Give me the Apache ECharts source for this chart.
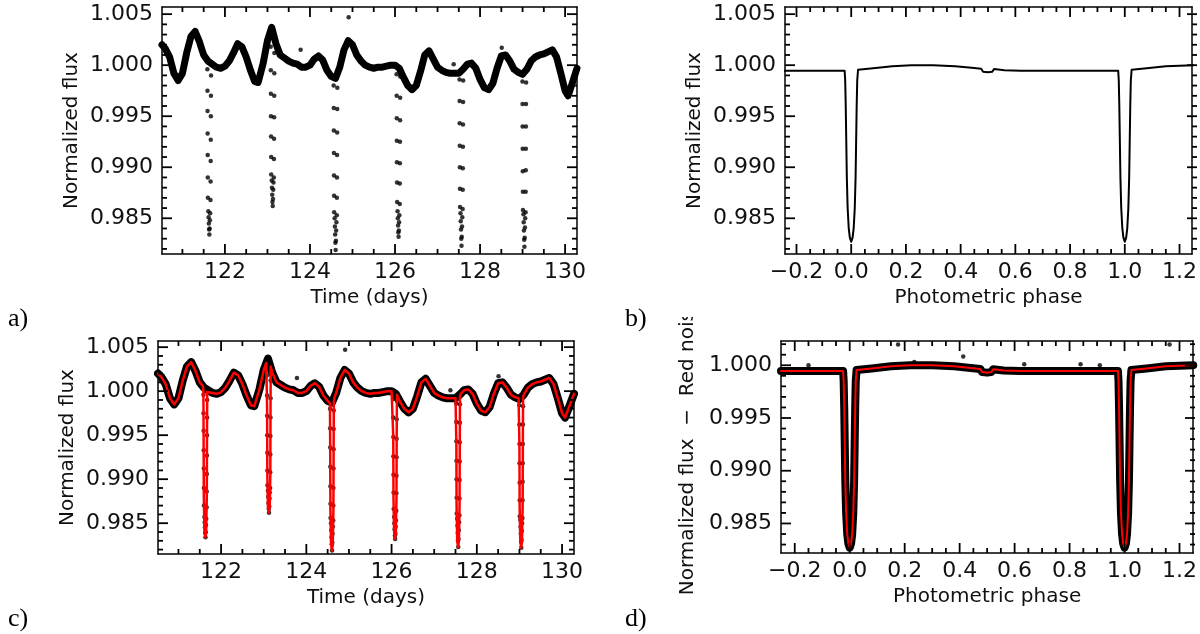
<!DOCTYPE html>
<html>
<head>
<meta charset="utf-8">
<script src="https://cdn.jsdelivr.net/npm/echarts@6/dist/echarts.min.js"></script>
<style>
html, body { margin: 0; padding: 0; background: #fff; }
#main { width: 1200px; height: 634px; }
</style>
</head>
<body>
<div id="main"></div>
<script>
// light curve out of eclipse: [time (days), normalized flux]
var lcBase = [
    [120.52, 1.0020], [120.60, 1.0016], [120.70, 1.0008], [120.80, 0.9992], [120.90, 0.9985],
    [121.00, 0.9992], [121.10, 1.0012], [121.20, 1.0028], [121.30, 1.0033], [121.40, 1.0023],
    [121.50, 1.0010], [121.60, 1.0004], [121.70, 1.0001], [121.80, 0.9998], [121.90, 0.9997],
    [122.00, 0.9999], [122.10, 1.0004], [122.20, 1.0012], [122.30, 1.0021], [122.40, 1.0018],
    [122.50, 1.0008], [122.60, 0.9995], [122.70, 0.9984], [122.78, 0.9983], [122.90, 1.0002],
    [123.00, 1.0024], [123.10, 1.0037], [123.20, 1.0021], [123.30, 1.0010], [123.40, 1.0007],
    [123.50, 1.0004], [123.60, 1.0002], [123.70, 1.0001], [123.80, 0.9998], [123.90, 0.9998],
    [124.00, 1.0000], [124.10, 1.0006], [124.20, 1.0009], [124.30, 1.0005], [124.40, 0.9995],
    [124.50, 0.9989], [124.60, 0.9987], [124.70, 0.9998], [124.80, 1.0015], [124.90, 1.0024],
    [125.00, 1.0020], [125.10, 1.0010], [125.20, 1.0004], [125.30, 1.0000], [125.40, 0.9998],
    [125.50, 0.9997], [125.60, 0.9998], [125.70, 0.9998], [125.80, 0.9999], [125.90, 1.0000],
    [126.00, 1.0000], [126.10, 0.9997], [126.20, 0.9988], [126.30, 0.9980], [126.40, 0.9976],
    [126.50, 0.9980], [126.60, 0.9994], [126.70, 1.0010], [126.80, 1.0014], [126.90, 1.0006],
    [127.00, 0.9998], [127.10, 0.9995], [127.20, 0.9993], [127.30, 0.9992], [127.40, 0.9992],
    [127.50, 0.9992], [127.60, 0.9996], [127.70, 1.0001], [127.80, 1.0002], [127.90, 0.9997],
    [128.00, 0.9986], [128.10, 0.9978], [128.20, 0.9976], [128.30, 0.9982], [128.40, 0.9997],
    [128.50, 1.0009], [128.60, 1.0010], [128.70, 1.0004], [128.80, 0.9996], [128.90, 0.9993],
    [129.00, 0.9991], [129.10, 0.9996], [129.20, 1.0004], [129.30, 1.0008], [129.40, 1.0010],
    [129.50, 1.0011], [129.60, 1.0013], [129.70, 1.0015], [129.80, 1.0008], [129.90, 0.9992],
    [130.00, 0.9975], [130.07, 0.9970], [130.15, 0.9980], [130.28, 0.9997]
];

// points inside the six eclipses
var eclDots = [
    [121.587, 0.9996], [121.589, 0.9975], [121.591, 0.9955], [121.593, 0.9933], [121.595, 0.9912], [121.597, 0.9890], [121.599, 0.9870],
    [121.661, 0.9868], [121.663, 0.9886], [121.665, 0.9906], [121.667, 0.9927], [121.669, 0.9950], [121.671, 0.9970], [121.673, 0.9990],
    [121.610, 0.9857], [121.616, 0.9851], [121.622, 0.9845], [121.628, 0.9839], [121.634, 0.9834], [121.640, 0.9840], [121.646, 0.9848], [121.652, 0.9855],
    [123.077, 1.0018], [123.079, 0.9995], [123.081, 0.9972], [123.083, 0.9950], [123.085, 0.9930], [123.087, 0.9910], [123.089, 0.9893],
    [123.151, 0.9890], [123.153, 0.9908], [123.155, 0.9928], [123.157, 0.9949], [123.159, 0.9970], [123.161, 0.9992], [123.163, 1.0012],
    [123.100, 0.9887], [123.106, 0.9880], [123.112, 0.9873], [123.118, 0.9866], [123.124, 0.9862], [123.130, 0.9869], [123.136, 0.9878], [123.142, 0.9885],
    [124.557, 0.9980], [124.559, 0.9958], [124.561, 0.9936], [124.563, 0.9914], [124.565, 0.9892], [124.567, 0.9872], [124.569, 0.9856],
    [124.631, 0.9853], [124.633, 0.9870], [124.635, 0.9890], [124.637, 0.9912], [124.639, 0.9934], [124.641, 0.9957], [124.643, 0.9978],
    [124.580, 0.9850], [124.586, 0.9842], [124.592, 0.9834], [124.598, 0.9826], [124.604, 0.9819], [124.610, 0.9828], [124.616, 0.9838], [124.622, 0.9846],
    [126.037, 0.9991], [126.039, 0.9970], [126.041, 0.9948], [126.043, 0.9926], [126.045, 0.9905], [126.047, 0.9885], [126.049, 0.9866],
    [126.111, 0.9864], [126.113, 0.9884], [126.115, 0.9904], [126.117, 0.9925], [126.119, 0.9946], [126.121, 0.9968], [126.123, 0.9989],
    [126.060, 0.9857], [126.066, 0.9850], [126.072, 0.9843], [126.078, 0.9836], [126.084, 0.9832], [126.090, 0.9838], [126.096, 0.9846], [126.102, 0.9853],
    [127.517, 0.9986], [127.519, 0.9965], [127.521, 0.9943], [127.523, 0.9921], [127.525, 0.9900], [127.527, 0.9879], [127.529, 0.9861],
    [127.591, 0.9859], [127.593, 0.9878], [127.595, 0.9899], [127.597, 0.9920], [127.599, 0.9942], [127.601, 0.9964], [127.603, 0.9985],
    [127.540, 0.9855], [127.546, 0.9847], [127.552, 0.9839], [127.558, 0.9830], [127.564, 0.9823], [127.570, 0.9832], [127.576, 0.9842], [127.582, 0.9851],
    [128.997, 0.9984], [128.999, 0.9962], [129.001, 0.9940], [129.003, 0.9918], [129.005, 0.9896], [129.007, 0.9876], [129.009, 0.9858],
    [129.071, 0.9856], [129.073, 0.9876], [129.075, 0.9897], [129.077, 0.9918], [129.079, 0.9940], [129.081, 0.9962], [129.083, 0.9983],
    [129.020, 0.9854], [129.026, 0.9846], [129.032, 0.9838], [129.038, 0.9829], [129.044, 0.9822], [129.050, 0.9831], [129.056, 0.9841], [129.062, 0.9850]
];

// isolated points above the band
var lcOutliers = [[124.91, 1.0047], [123.78, 1.0015], [127.38, 1.0001], [128.51, 1.0017]];

// eclipse mid-times and the model dips drawn in red (panel c)
var eclTimes = [121.63, 123.12, 124.60, 126.08, 127.56, 129.04];
var eclModel = [
    [121.57, 1.0006], [121.585, 1.0001], [121.59, 0.9950], [121.595, 0.9880], [121.61, 0.9842], [121.63, 0.9834], [121.65, 0.9842], [121.665, 0.9880], [121.67, 0.9950], [121.675, 0.9999], [121.69, 1.0001],
    [123.06, 1.0032], [123.075, 1.0033], [123.08, 0.9980], [123.085, 0.9905], [123.10, 0.9868], [123.12, 0.9862], [123.14, 0.9868], [123.155, 0.9905], [123.16, 0.9980], [123.165, 1.0028], [123.18, 1.0026],
    [124.54, 0.9988], [124.555, 0.9986], [124.56, 0.9935], [124.565, 0.9865], [124.58, 0.9826], [124.60, 0.9819], [124.62, 0.9826], [124.635, 0.9865], [124.64, 0.9935], [124.645, 0.9988], [124.66, 0.9993],
    [126.02, 1.0000], [126.035, 0.9999], [126.04, 0.9948], [126.045, 0.9878], [126.06, 0.9840], [126.08, 0.9832], [126.10, 0.9840], [126.115, 0.9878], [126.12, 0.9948], [126.125, 0.9996], [126.14, 0.9994],
    [127.50, 0.9992], [127.515, 0.9993], [127.52, 0.9940], [127.525, 0.9870], [127.54, 0.9830], [127.56, 0.9823], [127.58, 0.9830], [127.595, 0.9870], [127.60, 0.9940], [127.605, 0.9994], [127.62, 0.9997],
    [128.98, 0.9992], [128.995, 0.9991], [129.00, 0.9938], [129.005, 0.9868], [129.02, 0.9829], [129.04, 0.9822], [129.06, 0.9829], [129.075, 0.9868], [129.08, 0.9938], [129.085, 0.9993], [129.10, 0.9996]
];

// phase-folded model: [phase, normalized flux]
var phaseModel = [
    [-0.25, 0.99945], [-0.10, 0.99945], [-0.024, 0.99945], [-0.022, 0.9985], [-0.020, 0.9960], [-0.018, 0.9925],
    [-0.016, 0.9890], [-0.013, 0.9860], [-0.009, 0.9840], [-0.005, 0.9831], [0.000, 0.9827], [0.005, 0.9831],
    [0.009, 0.9840], [0.013, 0.9860], [0.016, 0.9890], [0.018, 0.9925], [0.020, 0.9960], [0.022, 0.9985],
    [0.025, 0.99955], [0.08, 0.9997], [0.15, 0.9999], [0.22, 1.0000], [0.30, 1.0000], [0.38, 0.9999],
    [0.44, 0.99975], [0.475, 0.99965], [0.482, 0.99935], [0.50, 0.9993], [0.515, 0.99935], [0.522, 0.99962],
    [0.56, 0.9995], [0.62, 0.99945], [0.80, 0.99945], [0.976, 0.99945], [0.978, 0.9985], [0.980, 0.9960],
    [0.982, 0.9925], [0.984, 0.9890], [0.987, 0.9860], [0.991, 0.9840], [0.995, 0.9831], [1.000, 0.9827],
    [1.005, 0.9831], [1.009, 0.9840], [1.013, 0.9860], [1.016, 0.9890], [1.018, 0.9925], [1.020, 0.9960],
    [1.022, 0.9985], [1.025, 0.99955], [1.08, 0.9997], [1.15, 0.9999], [1.25, 1.0000]
];
// isolated points in the folded residual curve (panel d)
var phaseDots = [
    [0.176, 1.00196], [0.413, 1.00084], [1.164, 1.00196], [-0.15, 1.0000], [0.235, 1.0003],
    [0.635, 1.0001], [0.84, 1.0001], [0.91, 1.0000]
];

// tick labels and tick marks
var timeTicks = [122, 124, 126, 128, 130];
var timeMinor = [121, 121.5, 122.5, 123, 123.5, 124.5, 125, 125.5, 126.5, 127, 127.5, 128.5, 129, 129.5];
var fluxTicks = [0.985, 0.990, 0.995, 1.000, 1.005];
var fluxTicksD = [0.985, 0.990, 0.995, 1.000];
var fluxMinor = [0.982, 0.983, 0.984, 0.986, 0.987, 0.988, 0.989, 0.991, 0.992, 0.993, 0.994,
    0.996, 0.997, 0.998, 0.999, 1.001, 1.002, 1.003, 1.004];
var phaseTicks = [-0.2, 0, 0.2, 0.4, 0.6, 0.8, 1.0, 1.2];
var phaseMinor = [-0.15, -0.1, -0.05, 0.05, 0.1, 0.15, 0.25, 0.3, 0.35, 0.45, 0.5, 0.55, 0.65, 0.7,
    0.75, 0.85, 0.9, 0.95, 1.05, 1.1, 1.15];

var fnt = 'DejaVu Sans';
var ink = '#111';

var boxes = [
    { left: 162, top: 7, width: 415, height: 247 },
    { left: 785, top: 7, width: 412, height: 247 },
    { left: 158, top: 341, width: 416, height: 213 },
    { left: 781, top: 341, width: 414, height: 212 }
];

// red model for panel c: baseline outside eclipses + the dips
var modelC = lcBase.filter(function (p) {
    for (var i = 0; i < eclTimes.length; i++) {
        if (Math.abs(p[0] - eclTimes[i]) < 0.07) return false;
    }
    return true;
}).concat(eclModel).sort(function (a, b) { return a[0] - b[0]; });

function inRange(list, min, max) {
    return list.filter(function (v) { return v > min && v < max; });
}

// per grid and dimension: frame on both sides, then one label axis
function axisSet(dim, gi, min, max, labels, fmt, name, nameGap) {
    var sides = dim === 'x' ? ['bottom', 'top'] : ['left', 'right'];
    var out = [];
    sides.forEach(function (side) {
        out.push({
            type: 'value', gridIndex: gi, position: side, min: min, max: max,
            axisLine: { show: true, onZero: false, lineStyle: { color: '#000', width: 1.5 } },
            axisTick: { show: false },
            axisLabel: { show: false },
            splitLine: { show: false }
        });
    });
    out.push({
        type: 'value', gridIndex: gi, position: sides[0], min: min, max: max,
        name: name, nameLocation: 'middle', nameGap: nameGap,
        nameTextStyle: { fontFamily: fnt, fontSize: 20, color: ink },
        axisLine: { show: false, onZero: false },
        axisTick: { show: false },
        axisLabel: { show: true, customValues: labels, formatter: fmt, margin: dim === 'x' ? 7 : 9,
            fontFamily: fnt, fontSize: 22, color: ink },
        splitLine: { show: false }
    });
    return out;
}

function fmtFlux(v) { return v.toFixed(3); }
function fmtTime(v) { return String(v); }
function fmtPhase(v) { return v.toFixed(1).replace('-', '\u2212'); }

var tMin = 120.52, tMax = 130.28;
var fMin = 0.9815, fMax = 1.0057;
var fMinD = 0.9822, fMaxD = 1.0023;
var pMinB = -0.242, pMaxB = 1.246;
var pMinD = -0.25, pMaxD = 1.25;

var xAxes = [].concat(
    axisSet('x', 0, tMin, tMax, timeTicks, fmtTime, 'Time (days)', 34),
    axisSet('x', 1, pMinB, pMaxB, phaseTicks, fmtPhase, 'Photometric phase', 34),
    axisSet('x', 2, tMin, tMax, timeTicks, fmtTime, 'Time (days)', 34),
    axisSet('x', 3, pMinD, pMaxD, phaseTicks, fmtPhase, 'Photometric phase', 34)
);
var yAxes = [].concat(
    axisSet('y', 0, fMin, fMax, fluxTicks, fmtFlux, 'Normalized flux', 80),
    axisSet('y', 1, fMin, fMax, fluxTicks, fmtFlux, 'Normalized flux', 80),
    axisSet('y', 2, fMin, fMax, fluxTicks, fmtFlux, 'Normalized flux', 80),
    axisSet('y', 3, fMinD, fMaxD, fluxTicksD, fmtFlux, 'Normalized flux  \u2212  Red noise', 83)
);

function lineS(g, data, color, width) {
    return {
        type: 'line', xAxisIndex: 3 * g, yAxisIndex: 3 * g, data: data,
        showSymbol: false, symbol: 'none', silent: true,
        lineStyle: { color: color, width: width, cap: 'round', join: 'round' }
    };
}
function dotS(g, data) {
    return {
        type: 'scatter', xAxisIndex: 3 * g, yAxisIndex: 3 * g, data: data,
        symbolSize: 4.5, silent: true, itemStyle: { color: '#000' }
    };
}

var chart = echarts.init(document.getElementById('main'), null, { renderer: 'canvas' });

var labelFont = '26px "Liberation Serif"';
var graphics = [
    // the d) axis title is cut at the panel border in the original
    { type: 'rect', z: 100, shape: { x: 660, y: 270, width: 50, height: 47 }, style: { fill: '#fff' } },
    { type: 'text', left: 8, top: 306, style: { text: 'a)', font: labelFont, fill: '#000' } },
    { type: 'text', left: 625, top: 306, style: { text: 'b)', font: labelFont, fill: '#000' } },
    { type: 'text', left: 8, top: 606, style: { text: 'c)', font: labelFont, fill: '#000' } },
    { type: 'text', left: 625, top: 606, style: { text: 'd)', font: labelFont, fill: '#000' } }
];

var option = {
    animation: false,
    backgroundColor: '#fff',
    grid: boxes,
    xAxis: xAxes,
    yAxis: yAxes,
    series: [
        lineS(0, lcBase, '#000', 7),
        dotS(0, eclDots),
        dotS(0, lcOutliers),

        lineS(1, phaseModel, '#000', 2),

        lineS(2, lcBase, '#000', 8),
        dotS(2, eclDots),
        dotS(2, lcOutliers),
        lineS(2, modelC, '#ff0000', 2.5),

        lineS(3, phaseModel, '#000', 8),
        dotS(3, phaseDots),
        lineS(3, phaseModel, '#ff0000', 2)
    ],
    graphic: graphics
};
chart.setOption(option);

// IDL-style inward ticks on all four sides, placed through the axis scales
function tickLine(x1, y1, x2, y2) {
    return { type: 'line', z: 50, silent: true, shape: { x1: x1, y1: y1, x2: x2, y2: y2 },
        style: { stroke: '#000', lineWidth: 1.8 } };
}
function boxTicks(g, xr, yr, xMaj, xMin, yMaj, yMin) {
    var b = boxes[g];
    var bottom = b.top + b.height, right = b.left + b.width;
    [[inRange(xMaj, xr[0], xr[1]), 10], [inRange(xMin, xr[0], xr[1]), 5]].forEach(function (set) {
        set[0].forEach(function (v) {
            var px = chart.convertToPixel({ xAxisIndex: 3 * g }, v);
            graphics.push(tickLine(px, bottom, px, bottom - set[1]));
            graphics.push(tickLine(px, b.top, px, b.top + set[1]));
        });
    });
    [[inRange(yMaj, yr[0], yr[1]), 10], [inRange(yMin, yr[0], yr[1]), 5]].forEach(function (set) {
        set[0].forEach(function (v) {
            var py = chart.convertToPixel({ yAxisIndex: 3 * g }, v);
            graphics.push(tickLine(b.left, py, b.left + set[1], py));
            graphics.push(tickLine(right, py, right - set[1], py));
        });
    });
}
boxTicks(0, [tMin, tMax], [fMin, fMax], timeTicks, timeMinor, fluxTicks, fluxMinor);
boxTicks(1, [pMinB, pMaxB], [fMin, fMax], phaseTicks, phaseMinor, fluxTicks, fluxMinor);
boxTicks(2, [tMin, tMax], [fMin, fMax], timeTicks, timeMinor, fluxTicks, fluxMinor);
boxTicks(3, [pMinD, pMaxD], [fMinD, fMaxD], phaseTicks, phaseMinor, fluxTicks, fluxMinor);
chart.setOption({ graphic: graphics });
</script>
</body>
</html>
